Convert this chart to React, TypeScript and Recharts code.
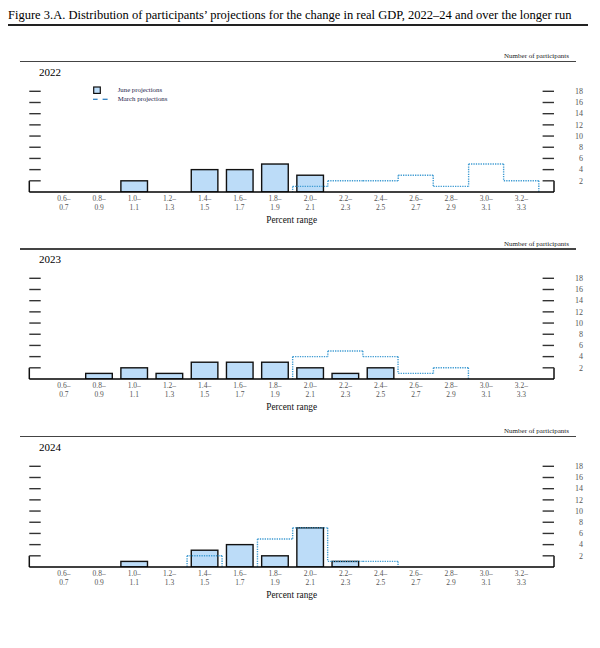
import React from "react";
import { BarChart, Bar, XAxis, YAxis, Legend, ReferenceLine } from "recharts";

// percent ranges (bin low / high ends)
const rangeLow = ["0.6", "0.8", "1.0", "1.2", "1.4", "1.6", "1.8", "2.0", "2.2", "2.4", "2.6", "2.8", "3.0", "3.2"];
const rangeHigh = ["0.7", "0.9", "1.1", "1.3", "1.5", "1.7", "1.9", "2.1", "2.3", "2.5", "2.7", "2.9", "3.1", "3.3"];
const countTicks = [2, 4, 6, 8, 10, 12, 14, 16, 18];

// number of participants per bin
const june2022 = [0, 0, 2, 0, 4, 4, 5, 3, 0, 0, 0, 0, 0, 0];
const march2022 = [0, 0, 0, 0, 0, 0, 0, 1, 2, 2, 3, 1, 5, 2];
const june2023 = [0, 1, 2, 1, 3, 3, 3, 2, 1, 2, 0, 0, 0, 0];
const march2023 = [0, 0, 0, 0, 0, 0, 0, 4, 5, 4, 1, 2, 0, 0];
const june2024 = [0, 0, 1, 0, 3, 4, 2, 7, 1, 0, 0, 0, 0, 0];
const march2024 = [0, 0, 0, 0, 2, 0, 5, 7, 1, 1, 0, 0, 0, 0];

const years = ["2022", "2023", "2024"];
const juneByYear = [june2022, june2023, june2024];
const marchByYear = [march2022, march2023, march2024];

const SERIF = "'Liberation Serif', 'Times New Roman', serif";
const JUNE_FILL = "#bcdcf8";
const MARCH_STROKE = "#3f9bd2";
const TICK_LEN = 11.4;

const JuneShape = (p: any) => {
  if (!p.height) return <g />;
  const inset = p.width * 0.12;
  return (
    <rect
      x={p.x + inset}
      y={p.y}
      width={p.width - 2 * inset}
      height={p.height}
      fill={JUNE_FILL}
      stroke="#111"
      strokeWidth={1.4}
    />
  );
};

// dotted step outline: top edge plus drops to lower neighbours
const makeMarchShape = (vals: number[]) => (p: any) => {
  const i = p.index;
  const v = vals[i];
  if (!v || !p.height) return <g />;
  const unit = p.height / v;
  const base = p.y + p.height;
  const prev = vals[i - 1] ?? 0;
  const next = vals[i + 1] ?? 0;
  const x0 = p.x;
  const x1 = p.x + p.width;
  let d = `M${x0},${p.y}H${x1}`;
  if (next < v) d += `M${x1},${p.y}V${base - next * unit}`;
  if (prev < v) d += `M${x0},${p.y}V${base - prev * unit}`;
  return <path d={d} fill="none" stroke={MARCH_STROKE} strokeWidth={1.4} strokeDasharray="1.3 1.1" />;
};

const BinTick = (p: any) => {
  const [lo, hi] = String(p.payload.value).split("–");
  return (
    <text x={p.x} y={p.y} textAnchor="middle" fontSize={7.5} fill="#555" fontFamily={SERIF}>
      <tspan x={p.x} dy={9.3}>{lo}–</tspan>
      <tspan x={p.x} dy={9}>{hi}</tspan>
    </text>
  );
};

const EmptyTick = () => <g />;

// tick lines point inwards (negative size), so labels are pushed back out
const CountTick = (p: any) => (
  <text x={p.x + TICK_LEN + 29} y={p.y} dy={2.7} textAnchor="end" fontSize={8} fill="#555" fontFamily={SERIF}>
    {p.payload.value}
  </text>
);

const LegendBox = () => (
  <div style={{ fontFamily: SERIF, fontSize: 6.8, color: "#1c1c4a", lineHeight: "8.6px" }}>
    <div style={{ display: "flex", alignItems: "center" }}>
      <svg width={25} height={8.6}>
        <rect x={0.7} y={1} width={6.6} height={6.4} fill={JUNE_FILL} stroke="#111" strokeWidth={1.2} />
      </svg>
      <span>June projections</span>
    </div>
    <div style={{ display: "flex", alignItems: "center" }}>
      <svg width={25} height={8.6}>
        <line x1={0} y1={4.3} x2={4.6} y2={4.3} stroke="#2f7fc0" strokeWidth={1.3} />
        <line x1={9.6} y1={4.3} x2={14.6} y2={4.3} stroke="#2f7fc0" strokeWidth={1.3} />
      </svg>
      <span>March projections</span>
    </div>
  </div>
);

const Panel: React.FC<{ k: number }> = ({ k }) => {
  const top = 61.7 + k * 187.5;
  const june = juneByYear[k];
  const march = marchByYear[k];
  const rows = rangeLow.map((lo, i) => ({
    bin: `${lo}–${rangeHigh[i]}`,
    june: june[i],
    march: march[i],
  }));
  const firstBin = rows[0].bin;
  const lastBin = rows[rows.length - 1].bin;
  const pad = { left: 17, right: 15 };
  const tickStyle = { stroke: "#333", strokeWidth: 1.4 };

  return (
    <>
      <div style={{ position: "absolute", left: 20, top: top - 0.8, width: 556, height: 1.6, background: "#444" }} />
      <div
        style={{
          position: "absolute",
          right: 31,
          top: top - 9.5,
          fontFamily: SERIF,
          fontSize: 7,
          lineHeight: "8px",
          color: "#222",
          whiteSpace: "nowrap",
        }}
      >
        Number of participants
      </div>
      <div
        style={{
          position: "absolute",
          left: 39,
          top: top + 4.2,
          fontFamily: SERIF,
          fontSize: 11,
          lineHeight: "12px",
          color: "#000",
        }}
      >
        {years[k]}
      </div>
      <div style={{ position: "absolute", left: 0, top }}>
        <BarChart
          width={600}
          height={200}
          data={rows}
          margin={{ top: 29.3, right: 0, left: 0, bottom: 30 }}
          barCategoryGap={0}
          barGap={0}
        >
          <XAxis
            xAxisId="june"
            dataKey="bin"
            interval={0}
            padding={pad}
            height={40}
            tickLine={false}
            tickSize={0}
            tickMargin={0}
            axisLine={{ stroke: "#000", strokeWidth: 1.6 }}
            tick={<BinTick />}
            label={{
              value: "Percent range",
              position: "insideBottom",
              offset: 9,
              fontSize: 9.3,
              fill: "#111",
              fontFamily: SERIF,
            }}
          />
          <XAxis xAxisId="march" dataKey="bin" padding={pad} height={0} hide />
          <XAxis xAxisId="frame" dataKey="bin" scale="point" padding={{ left: 0, right: 0 }} height={0} hide />
          <YAxis
            yAxisId="left"
            orientation="left"
            width={29.3}
            domain={[0, 18]}
            allowDataOverflow
            ticks={countTicks}
            interval={0}
            tick={<EmptyTick />}
            tickSize={-TICK_LEN}
            tickLine={tickStyle}
            axisLine={false}
          />
          <YAxis
            yAxisId="right"
            orientation="right"
            width={46}
            domain={[0, 18]}
            allowDataOverflow
            ticks={countTicks}
            interval={0}
            tickSize={-TICK_LEN}
            tickMargin={0}
            tickLine={tickStyle}
            axisLine={false}
            tick={<CountTick />}
          />
          <ReferenceLine
            xAxisId="frame"
            yAxisId="left"
            segment={[{ x: firstBin, y: 0 }, { x: firstBin, y: 2 }]}
            stroke="#111"
            strokeWidth={1.5}
            ifOverflow="visible"
          />
          <ReferenceLine
            xAxisId="frame"
            yAxisId="left"
            segment={[{ x: lastBin, y: 0 }, { x: lastBin, y: 2 }]}
            stroke="#111"
            strokeWidth={1.5}
            ifOverflow="visible"
          />
          <Bar
            xAxisId="june"
            yAxisId="left"
            dataKey="june"
            name="June projections"
            shape={<JuneShape />}
            isAnimationActive={false}
          />
          <Bar
            xAxisId="march"
            yAxisId="left"
            dataKey="march"
            name="March projections"
            shape={makeMarchShape(march)}
            isAnimationActive={false}
          />
          {k === 0 && (
            <Legend
              layout="horizontal"
              verticalAlign="middle"
              align="center"
              content={<LegendBox />}
              wrapperStyle={{ left: 92.7, top: 24.5, width: 120 }}
            />
          )}
        </BarChart>
      </div>
    </>
  );
};

const App: React.FC = () => {
  return (
    <div style={{ position: "absolute", left: 0, top: 0, width: 600, height: 648, background: "#fff" }}>
      <div
        style={{
          position: "absolute",
          left: 8,
          top: 7.5,
          fontFamily: SERIF,
          fontSize: 12.5,
          lineHeight: "15px",
          color: "#000",
          whiteSpace: "nowrap",
        }}
      >
        Figure 3.A. Distribution of participants’ projections for the change in real GDP, 2022–24 and over the longer run
      </div>
      <div style={{ position: "absolute", left: 8, top: 24.2, width: 580, height: 1.6, background: "#222" }} />
      {years.map((_, k) => (
        <Panel key={k} k={k} />
      ))}
    </div>
  );
};

export default App;
